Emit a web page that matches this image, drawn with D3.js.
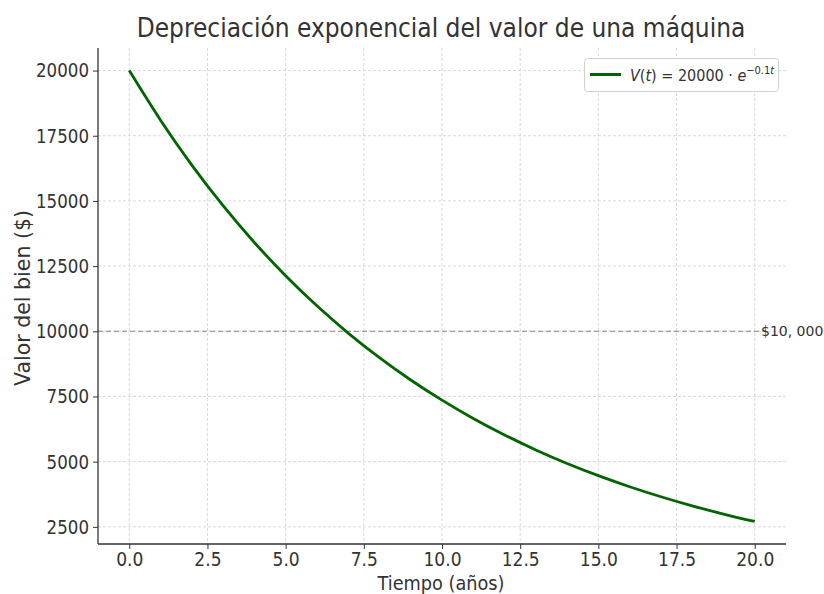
<!DOCTYPE html>
<html><head><meta charset="utf-8">
<script src="https://cdn.jsdelivr.net/npm/d3@7"></script>
<style>
body{margin:0;background:#fff;}
svg{display:block;}
.cond{font-family:"DejaVu Sans Condensed","DejaVu Sans",sans-serif;font-stretch:condensed;}
.norm{font-family:"DejaVu Sans",sans-serif;}
</style></head>
<body>
<svg id="c" width="824" height="594"></svg>
<script>
// Data (value at each year)
const years = [0,1,2,3,4,5,6,7,8,9,10,11,12,13,14,15,16,17,18,19,20];
const values = [20000,18097,16375,14816,13406,12131,10976,9932,8987,8131,7358,6657,6024,5451,4932,4463,4038,3654,3306,2991,2707];
const xTicks = [0,2.5,5,7.5,10,12.5,15,17.5,20];
const yTicks = [2500,5000,7500,10000,12500,15000,17500,20000];
const threshold = 10000;
const thresholdLabel = "$10, 000";
const title = "Depreciación exponencial del valor de una máquina";
const xLabel = "Tiempo (años)";
const yLabel = "Valor del bien ($)";

const svg = d3.select("#c");
const L=98, R=786, T=48, B=544;
const x = d3.scaleLinear().domain([-1,21]).range([L,R]);
const y = d3.scaleLinear().domain([1842,20865]).range([B,T]);

// grid
const g = svg.append("g");
g.selectAll(".vg").data(xTicks).enter().append("line")
 .attr("x1",d=>x(d)).attr("x2",d=>x(d)).attr("y1",T).attr("y2",B)
 .attr("stroke","#cfcfcf").attr("stroke-width",0.8).attr("stroke-dasharray","3,2");
g.selectAll(".hg").data(yTicks).enter().append("line")
 .attr("x1",L).attr("x2",R).attr("y1",d=>y(d)).attr("y2",d=>y(d))
 .attr("stroke","#cfcfcf").attr("stroke-width",0.8).attr("stroke-dasharray","3,2");

// threshold line
svg.append("line").attr("x1",L).attr("x2",x(20.35)).attr("y1",y(threshold)).attr("y2",y(threshold))
 .attr("stroke","#888").attr("stroke-width",1).attr("stroke-dasharray","5,3");
svg.append("text").attr("class","norm").attr("x",x(20.2)).attr("y",y(threshold)+5)
 .attr("font-size",14).attr("fill","#333").text(thresholdLabel);

// curve
const data = years.map((t,i)=>({t,v:values[i]}));
svg.append("path").datum(data)
 .attr("d",d3.line().x(d=>x(d.t)).y(d=>y(d.v)).curve(d3.curveMonotoneX))
 .attr("fill","none").attr("stroke","#006400").attr("stroke-width",2.8);

// axes
const xa = svg.append("g").attr("transform",`translate(0,${B})`)
 .call(d3.axisBottom(x).tickValues(xTicks).tickFormat(d3.format(".1f")).tickSizeOuter(0).tickSize(5).tickPadding(4));
xa.selectAll("text").attr("class","cond").attr("font-size",19).attr("fill","#333");
const ya = svg.append("g").attr("transform",`translate(${L},0)`)
 .call(d3.axisLeft(y).tickValues(yTicks).tickFormat(d3.format("d")).tickSizeOuter(0).tickSize(5).tickPadding(4));
ya.selectAll("text").attr("class","norm").attr("font-size",20).attr("fill","#333")
 .attr("textLength",d=>String(d).length*10.6).attr("lengthAdjust","spacingAndGlyphs");
[xa,ya].forEach(a=>{a.select(".domain").attr("stroke","#333").attr("stroke-width",1.3);
 a.selectAll(".tick line").attr("stroke","#333").attr("stroke-width",1);});
xa.select(".domain").attr("d",`M${L},0H${R}`);
ya.select(".domain").attr("d",`M0,${B}V${T}`);

// labels
svg.append("text").attr("class","cond").attr("x",(L+R)/2-1).attr("y",37).attr("text-anchor","middle")
 .attr("font-size",26).attr("fill","#333").text(title);
svg.append("text").attr("class","cond").attr("x",(L+R)/2-1).attr("y",589.5).attr("text-anchor","middle")
 .attr("font-size",19).attr("fill","#333").attr("textLength",127).attr("lengthAdjust","spacingAndGlyphs").text(xLabel);
svg.append("text").attr("class","norm").attr("transform",`translate(30,${(T+B)/2+2}) rotate(-90)`)
 .attr("text-anchor","middle").attr("font-size",20.5).attr("fill","#333").text(yLabel);

// legend
const lg = svg.append("g");
lg.append("rect").attr("x",584.5).attr("y",58.5).attr("width",194).attr("height",33).attr("rx",3)
 .attr("fill","#fff").attr("fill-opacity",0.85).attr("stroke","#d0d0d0");
lg.append("line").attr("x1",590).attr("x2",621).attr("y1",74.5).attr("y2",74.5)
 .attr("stroke","#006400").attr("stroke-width",3);
const lt = lg.append("text").attr("class","cond").attr("x",630).attr("y",81).attr("font-size",16).attr("fill","#333");
lt.append("tspan").attr("font-style","italic").text("V");
lt.append("tspan").text("(");
lt.append("tspan").attr("font-style","italic").text("t");
lt.append("tspan").text(") = 20000 · ");
lt.append("tspan").attr("font-style","italic").text("e");
lt.append("tspan").attr("font-size",11).attr("dy",-7).text("−0.1");
lt.append("tspan").attr("font-size",11).attr("font-style","italic").text("t");
</script>
</body></html>
